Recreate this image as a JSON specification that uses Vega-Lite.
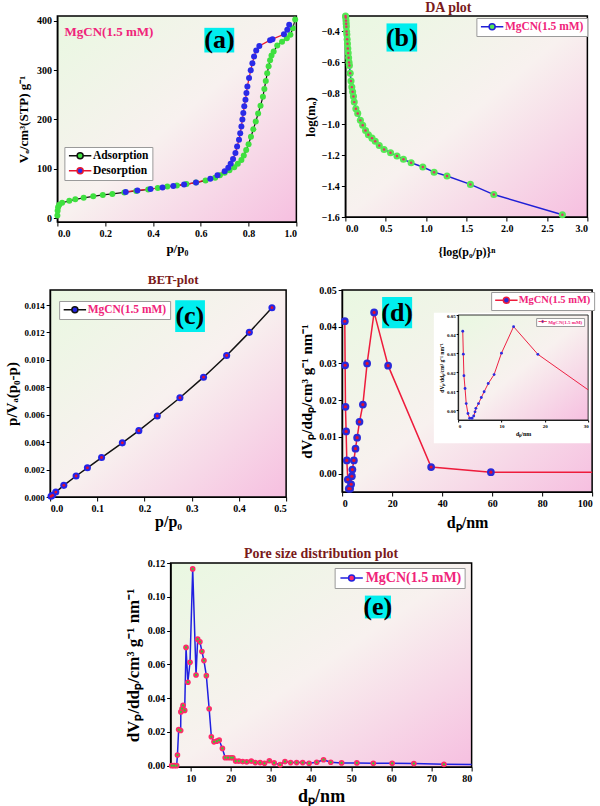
{
"$schema":"https://vega.github.io/schema/vega-lite/v6.json",
"background":"white",
"padding":{"left":4,"top":0,"right":0,"bottom":0},
"center":true,
"spacing":15,
"resolve":{"scale":{"stroke":"independent","fill":"independent"}},
"config":{
 "font":"Liberation Serif",
 "view":{"stroke":"black","strokeWidth":1.5},
 "axis":{"labelFont":"Liberation Serif","labelFontWeight":"bold","labelFontSize":10,"labelColor":"black","titleFont":"Liberation Serif","titleFontWeight":"bold","titleColor":"black","domainColor":"black","domainWidth":1.2,"tickColor":"black","tickSize":4,"tickWidth":1,"grid":false,"labelPadding":2},
 "title":{"font":"Liberation Serif","fontWeight":"bold","fontSize":13,"color":"#7a1a1a","offset":-3},
 "legend":{"labelFont":"Liberation Serif","labelFontWeight":"bold","labelFontSize":11.5,"labelColor":"#f0247a","symbolSize":64,"symbolStrokeWidth":1.5,"strokeColor":"#9a9a9a","fillColor":"white","padding":3,"symbolOffset":7,"labelOffset":7}
},
"datasets":{
 "iso":[
  {"p":0,"v":5,"b":"Adsorption"},{"p":0.001,"v":15,"b":"Adsorption"},{"p":0.003,"v":22,"b":"Adsorption"},{"p":0.008,"v":27,"b":"Adsorption"},{"p":0.02,"v":31,"b":"Adsorption"},{"p":0.05,"v":35,"b":"Adsorption"},{"p":0.075,"v":38,"b":"Adsorption"},{"p":0.11,"v":41,"b":"Adsorption"},{"p":0.15,"v":44,"b":"Adsorption"},{"p":0.19,"v":47,"b":"Adsorption"},{"p":0.23,"v":49,"b":"Adsorption"},{"p":0.28,"v":52,"b":"Adsorption"},{"p":0.33,"v":55,"b":"Adsorption"},{"p":0.38,"v":58,"b":"Adsorption"},{"p":0.42,"v":61,"b":"Adsorption"},{"p":0.46,"v":64,"b":"Adsorption"},{"p":0.5,"v":66,"b":"Adsorption"},{"p":0.54,"v":69,"b":"Adsorption"},{"p":0.58,"v":72,"b":"Adsorption"},{"p":0.62,"v":76,"b":"Adsorption"},{"p":0.66,"v":82,"b":"Adsorption"},{"p":0.68,"v":87,"b":"Adsorption"},{"p":0.7,"v":92,"b":"Adsorption"},{"p":0.72,"v":97,"b":"Adsorption"},{"p":0.74,"v":103,"b":"Adsorption"},{"p":0.755,"v":110,"b":"Adsorption"},{"p":0.77,"v":118,"b":"Adsorption"},{"p":0.78,"v":127,"b":"Adsorption"},{"p":0.79,"v":138,"b":"Adsorption"},{"p":0.8,"v":150,"b":"Adsorption"},{"p":0.81,"v":165,"b":"Adsorption"},{"p":0.82,"v":180,"b":"Adsorption"},{"p":0.83,"v":196,"b":"Adsorption"},{"p":0.84,"v":212,"b":"Adsorption"},{"p":0.85,"v":228,"b":"Adsorption"},{"p":0.86,"v":246,"b":"Adsorption"},{"p":0.866,"v":262,"b":"Adsorption"},{"p":0.872,"v":278,"b":"Adsorption"},{"p":0.878,"v":294,"b":"Adsorption"},{"p":0.884,"v":308,"b":"Adsorption"},{"p":0.89,"v":320,"b":"Adsorption"},{"p":0.896,"v":330,"b":"Adsorption"},{"p":0.905,"v":338,"b":"Adsorption"},{"p":0.92,"v":350,"b":"Adsorption"},{"p":0.94,"v":358,"b":"Adsorption"},{"p":0.96,"v":365,"b":"Adsorption"},{"p":0.975,"v":372,"b":"Adsorption"},{"p":0.985,"v":385,"b":"Adsorption"},{"p":0.995,"v":403,"b":"Adsorption"},
  {"p":0.286,"v":53,"b":"Desorption"},{"p":0.335,"v":56,"b":"Desorption"},{"p":0.39,"v":59,"b":"Desorption"},{"p":0.44,"v":62,"b":"Desorption"},{"p":0.485,"v":65,"b":"Desorption"},{"p":0.53,"v":68,"b":"Desorption"},{"p":0.58,"v":72,"b":"Desorption"},{"p":0.64,"v":80,"b":"Desorption"},{"p":0.67,"v":87,"b":"Desorption"},{"p":0.7,"v":95,"b":"Desorption"},{"p":0.715,"v":102,"b":"Desorption"},{"p":0.725,"v":110,"b":"Desorption"},{"p":0.735,"v":120,"b":"Desorption"},{"p":0.745,"v":132,"b":"Desorption"},{"p":0.752,"v":145,"b":"Desorption"},{"p":0.76,"v":159,"b":"Desorption"},{"p":0.765,"v":172,"b":"Desorption"},{"p":0.77,"v":186,"b":"Desorption"},{"p":0.774,"v":200,"b":"Desorption"},{"p":0.778,"v":213,"b":"Desorption"},{"p":0.782,"v":227,"b":"Desorption"},{"p":0.787,"v":240,"b":"Desorption"},{"p":0.791,"v":254,"b":"Desorption"},{"p":0.795,"v":267,"b":"Desorption"},{"p":0.802,"v":284,"b":"Desorption"},{"p":0.809,"v":300,"b":"Desorption"},{"p":0.816,"v":314,"b":"Desorption"},{"p":0.823,"v":328,"b":"Desorption"},{"p":0.832,"v":340,"b":"Desorption"},{"p":0.845,"v":349,"b":"Desorption"},{"p":0.89,"v":361,"b":"Desorption"},{"p":0.9,"v":363,"b":"Desorption"},{"p":0.948,"v":373,"b":"Desorption"},{"p":0.962,"v":382,"b":"Desorption"},{"p":0.97,"v":392,"b":"Desorption"}
 ],
 "da":[
  {"x":0.002,"y":-0.3},{"x":0.005,"y":-0.31},{"x":0.008,"y":-0.33},{"x":0.01,"y":-0.35},{"x":0.012,"y":-0.37},{"x":0.015,"y":-0.4},{"x":0.018,"y":-0.42},{"x":0.022,"y":-0.45},{"x":0.026,"y":-0.48},{"x":0.03,"y":-0.51},{"x":0.035,"y":-0.54},{"x":0.04,"y":-0.57},{"x":0.045,"y":-0.6},{"x":0.05,"y":-0.62},{"x":0.06,"y":-0.67},{"x":0.07,"y":-0.72},{"x":0.08,"y":-0.76},{"x":0.09,"y":-0.79},{"x":0.1,"y":-0.82},{"x":0.11,"y":-0.857},{"x":0.13,"y":-0.9},{"x":0.153,"y":-0.93},{"x":0.186,"y":-0.975},{"x":0.215,"y":-1.007},{"x":0.25,"y":-1.04},{"x":0.285,"y":-1.068},{"x":0.33,"y":-1.09},{"x":0.37,"y":-1.11},{"x":0.42,"y":-1.137},{"x":0.48,"y":-1.163},{"x":0.56,"y":-1.184},{"x":0.64,"y":-1.205},{"x":0.72,"y":-1.227},{"x":0.815,"y":-1.249},{"x":0.96,"y":-1.277},{"x":1.1,"y":-1.31},{"x":1.26,"y":-1.335},{"x":1.55,"y":-1.389},{"x":1.84,"y":-1.455},{"x":2.69,"y":-1.585}
 ],
 "bet":[
  {"x":0.002,"y":0.00005},{"x":0.005,"y":0.00012},{"x":0.012,"y":0.00036},{"x":0.029,"y":0.00085},{"x":0.055,"y":0.00153},{"x":0.079,"y":0.00213},{"x":0.109,"y":0.00288},{"x":0.153,"y":0.00395},{"x":0.188,"y":0.00484},{"x":0.227,"y":0.00591},{"x":0.275,"y":0.00724},{"x":0.325,"y":0.00874},{"x":0.374,"y":0.01032},{"x":0.422,"y":0.01201},{"x":0.47,"y":0.01381}
 ],
 "psd_d":[
  {"d":1.07,"dv":0.0415},{"d":1.2,"dv":0.0295},{"d":1.34,"dv":0.0182},{"d":1.6,"dv":0.0115},{"d":1.87,"dv":0.0036},{"d":2.27,"dv":-0.0016},{"d":2.67,"dv":-0.0041},{"d":3.2,"dv":-0.0041},{"d":3.6,"dv":-0.0029},{"d":3.9,"dv":-0.0007},{"d":4.1,"dv":0.0011},{"d":4.7,"dv":0.0036},{"d":5.35,"dv":0.0068},{"d":6.0,"dv":0.0098},{"d":6.95,"dv":0.0141},{"d":8.3,"dv":0.0188},{"d":10.0,"dv":0.03},{"d":12.8,"dv":0.0439},{"d":18.4,"dv":0.0294},{"d":35.6,"dv":0.0018},{"d":59.5,"dv":0.0004},{"d":100,"dv":0.0004}
 ],
 "inset":[
  {"d":1.07,"dv":0.0415},{"d":1.2,"dv":0.0295},{"d":1.34,"dv":0.0182},{"d":1.6,"dv":0.0115},{"d":1.87,"dv":0.0036},{"d":2.27,"dv":-0.0016},{"d":2.67,"dv":-0.0041},{"d":3.2,"dv":-0.0041},{"d":3.6,"dv":-0.0029},{"d":3.9,"dv":-0.0007},{"d":4.1,"dv":0.0011},{"d":4.7,"dv":0.0036},{"d":5.35,"dv":0.0068},{"d":6.0,"dv":0.0098},{"d":6.95,"dv":0.0141},{"d":8.3,"dv":0.0188},{"d":10.0,"dv":0.03},{"d":12.8,"dv":0.0439},{"d":18.4,"dv":0.0294},{"d":30,"dv":0.0108}
 ],
 "psd_e":[
  {"d":5.27,"dv":0},{"d":5.85,"dv":0},{"d":6.5,"dv":0},{"d":6.7,"dv":0.0063},{"d":7.0,"dv":0.0214},{"d":7.5,"dv":0.0208},{"d":7.55,"dv":0.0318},{"d":7.84,"dv":0.0337},{"d":8.1,"dv":0.0357},{"d":8.5,"dv":0.0327},{"d":8.84,"dv":0.07},{"d":9.3,"dv":0.0494},{"d":9.83,"dv":0.0612},{"d":10.5,"dv":0.1165},{"d":11.33,"dv":0.0537},{"d":11.74,"dv":0.0749},{"d":12.3,"dv":0.0733},{"d":12.8,"dv":0.0676},{"d":13.3,"dv":0.0622},{"d":13.9,"dv":0.0533},{"d":14.6,"dv":0.0337},{"d":15.15,"dv":0.0171},{"d":15.8,"dv":0.0141},{"d":16.5,"dv":0.0145},{"d":17.1,"dv":0.0151},{"d":17.9,"dv":0.0102},{"d":18.6,"dv":0.0047},{"d":19.3,"dv":0.0047},{"d":20.0,"dv":0.0047},{"d":20.5,"dv":0.0047},{"d":21.2,"dv":0.0027},{"d":22.0,"dv":0.0027},{"d":22.96,"dv":0.0024},{"d":23.95,"dv":0.0022},{"d":25.1,"dv":0.0027},{"d":26.1,"dv":0.0018},{"d":27.3,"dv":0.0018},{"d":28.4,"dv":0.0014},{"d":29.6,"dv":0.0029},{"d":30.8,"dv":0.0016},{"d":32.3,"dv":0.0006},{"d":33.5,"dv":0.0024},{"d":34.9,"dv":0.0018},{"d":36.4,"dv":0.0018},{"d":37.9,"dv":0.0018},{"d":39.5,"dv":0.0014},{"d":41.4,"dv":0.002},{"d":43.1,"dv":0.0035},{"d":44.9,"dv":0.002},{"d":47.6,"dv":0.0016},{"d":51.4,"dv":0.0016},{"d":55.5,"dv":0.0014},{"d":60.2,"dv":0.0014},{"d":65.6,"dv":0.0012},{"d":73.1,"dv":0.0008},{"d":80,"dv":0.0007}
 ]
},
"vconcat":[
 {"hconcat":[
  {
   "width":239,"height":206,
   "view":{"fill":{"gradient":"linear","x1":0,"y1":0,"x2":1,"y2":1,"stops":[{"offset":0,"color":"#e9f8e1"},{"offset":0.5,"color":"#f8f1ef"},{"offset":1,"color":"#f6bfe0"}]},"stroke":"black","strokeWidth":1.5},
   "data":{"name":"iso"},
   "encoding":{
    "x":{"field":"p","type":"quantitative","scale":{"domain":[0,1],"nice":false},"axis":{"values":[0,0.2,0.4,0.6,0.8,1],"format":".1f","title":"p/p₀","titleFontSize":13,"titlePadding":4}},
    "y":{"field":"v","type":"quantitative","scale":{"domain":[-8,410],"nice":false,"zero":false},"axis":{"values":[0,100,200,300,400],"title":"Vₐ/cm³(STP) g⁻¹","titleFontSize":13,"titlePadding":6}}
   },
   "layer":[
    {"mark":{"type":"line","strokeWidth":1.2},"encoding":{"stroke":{"field":"b","type":"nominal","scale":{"domain":["Adsorption","Desorption"],"range":["#111111","#e8162e"]},"legend":{"title":null,"orient":"none","legendX":7,"legendY":131,"symbolType":"M-2.8,0H-0.75M0.75,0H2.8M-0.75,0A0.75,0.75,0,1,0,0.75,0A0.75,0.75,0,1,0,-0.75,0Z","labelColor":"black","labelFontSize":11.5}}}},
    {"mark":{"type":"point","filled":true,"size":36,"opacity":1},"encoding":{"fill":{"field":"b","type":"nominal","scale":{"domain":["Adsorption","Desorption"],"range":["#3fe03f","#2a2ae8"]},"legend":{"title":null,"orient":"none","legendX":7,"legendY":131,"symbolType":"M-2.8,0H-0.75M0.75,0H2.8M-0.75,0A0.75,0.75,0,1,0,0.75,0A0.75,0.75,0,1,0,-0.75,0Z","labelColor":"black","labelFontSize":11.5}}}},
    {"data":{"values":[{"p":0.615,"p2":0.74,"v":336,"v2":386}]},"mark":{"type":"rect","fill":"#00eeee"},"encoding":{"x2":{"field":"p2"},"y2":{"field":"v2"}}},
    {"data":{"values":[{"p":0.678,"v":361,"t":"(a)"}]},"mark":{"type":"text","fontSize":26,"fontWeight":"bold","font":"Liberation Serif","color":"black","baseline":"middle"},"encoding":{"text":{"field":"t"}}},
    {"data":{"values":[{"p":0.03,"v":378,"t":"MgCN(1.5 mM)"}]},"mark":{"type":"text","fontSize":13,"fontWeight":"bold","font":"Liberation Serif","color":"#f0247a","align":"left","baseline":"middle"},"encoding":{"text":{"field":"t"}}}
   ]
  },
  {
   "title":{"text":"DA plot","fontSize":14,"dx":-18},
   "width":242,"height":201,
   "view":{"fill":{"gradient":"linear","x1":0,"y1":0,"x2":1,"y2":1,"stops":[{"offset":0,"color":"#e9f8e1"},{"offset":0.5,"color":"#f8f1ef"},{"offset":1,"color":"#f6bfe0"}]},"stroke":"black","strokeWidth":1.5},
   "data":{"name":"da"},
   "encoding":{
    "x":{"field":"x","type":"quantitative","scale":{"domain":[0,3],"nice":false},"axis":{"values":[0,0.5,1,1.5,2,2.5,3],"format":".1f","title":"{log(p₀/p)}ⁿ","titleFontSize":12,"titlePadding":13}},
    "y":{"field":"y","type":"quantitative","scale":{"domain":[-1.6,-0.3],"nice":false,"zero":false},"axis":{"values":[-1.6,-1.4,-1.2,-1,-0.8,-0.6,-0.4],"format":".1f","title":"log(mₐ)","titleFontSize":13,"titlePadding":4}}
   },
   "layer":[
    {"mark":{"type":"line","strokeWidth":1.5},"encoding":{"stroke":{"datum":"MgCN(1.5 mM)","type":"nominal","scale":{"range":["#1f1fd6"]},"legend":{"title":null,"orient":"none","legendX":131,"legendY":2,"symbolType":"M-2.8,0H-0.75M0.75,0H2.8M-0.75,0A0.75,0.75,0,1,0,0.75,0A0.75,0.75,0,1,0,-0.75,0Z"}}}},
    {"mark":{"type":"point","filled":true,"size":50,"opacity":1},"encoding":{"fill":{"datum":"MgCN(1.5 mM)","type":"nominal","scale":{"range":["#55e855"]},"legend":{"title":null,"orient":"none","legendX":131,"legendY":2,"symbolType":"M-2.8,0H-0.75M0.75,0H2.8M-0.75,0A0.75,0.75,0,1,0,0.75,0A0.75,0.75,0,1,0,-0.75,0Z"}}}},
    {"mark":{"type":"point","filled":true,"size":6,"opacity":1,"color":"#e0306a"}},
    {"data":{"values":[{"x":0.51,"x2":0.89,"y":-0.53,"y2":-0.348}]},"mark":{"type":"rect","fill":"#00eeee"},"encoding":{"x2":{"field":"x2"},"y2":{"field":"y2"}}},
    {"data":{"values":[{"x":0.7,"y":-0.44,"t":"(b)"}]},"mark":{"type":"text","fontSize":26,"fontWeight":"bold","font":"Liberation Serif","color":"black","baseline":"middle"},"encoding":{"text":{"field":"t"}}}
   ]
  }
 ],"spacing":49,"bounds":"flush","resolve":{"scale":{"stroke":"independent","fill":"independent"}}},
 {"hconcat":[
  {
   "title":{"text":"BET-plot","dx":5,"offset":3},
   "width":236,"height":207,
   "view":{"fill":{"gradient":"linear","x1":0,"y1":0,"x2":1,"y2":1,"stops":[{"offset":0,"color":"#e9f8e1"},{"offset":0.5,"color":"#f8f1ef"},{"offset":1,"color":"#f6bfe0"}]},"stroke":"black","strokeWidth":1.5},
   "data":{"name":"bet"},
   "encoding":{
    "x":{"field":"x","type":"quantitative","scale":{"domain":[0,0.5],"nice":false},"axis":{"values":[0,0.1,0.2,0.3,0.4,0.5],"format":".1f","title":"p/p₀","titleFontSize":16,"titlePadding":0}},
    "y":{"field":"y","type":"quantitative","scale":{"domain":[0,0.0151],"nice":false,"zero":false},"axis":{"values":[0,0.002,0.004,0.006,0.008,0.01,0.012,0.014],"format":".3f","labelFontSize":9,"title":"p/Vₐ(p₀-p)","titleFontSize":15,"titlePadding":4}}
   },
   "layer":[
    {"mark":{"type":"line","strokeWidth":1.5},"encoding":{"stroke":{"datum":"MgCN(1.5 mM)","type":"nominal","scale":{"range":["#111111"]},"legend":{"title":null,"orient":"none","legendX":9,"legendY":11,"symbolType":"M-2.8,0H-0.75M0.75,0H2.8M-0.75,0A0.75,0.75,0,1,0,0.75,0A0.75,0.75,0,1,0,-0.75,0Z"}}}},
    {"mark":{"type":"point","filled":true,"size":50,"opacity":1},"encoding":{"fill":{"datum":"MgCN(1.5 mM)","type":"nominal","scale":{"range":["#2424e6"]},"legend":{"title":null,"orient":"none","legendX":9,"legendY":11,"symbolType":"M-2.8,0H-0.75M0.75,0H2.8M-0.75,0A0.75,0.75,0,1,0,0.75,0A0.75,0.75,0,1,0,-0.75,0Z"}}}},
    {"mark":{"type":"point","filled":true,"size":8,"opacity":1,"color":"#e01030"}},
    {"data":{"values":[{"x":0.265,"x2":0.328,"y":0.01203,"y2":0.01436}]},"mark":{"type":"rect","fill":"#00eeee"},"encoding":{"x2":{"field":"x2"},"y2":{"field":"y2"}}},
    {"data":{"values":[{"x":0.296,"y":0.0132,"t":"(c)"}]},"mark":{"type":"text","fontSize":26,"fontWeight":"bold","font":"Liberation Serif","color":"black","baseline":"middle"},"encoding":{"text":{"field":"t"}}}
   ]
  },
  {
   "width":250,"height":202,
   "view":{"fill":{"gradient":"linear","x1":0,"y1":0,"x2":1,"y2":1,"stops":[{"offset":0,"color":"#e9f8e1"},{"offset":0.5,"color":"#f8f1ef"},{"offset":1,"color":"#f6bfe0"}]},"stroke":"black","strokeWidth":1.5},
   "layer":[
    {
     "data":{"name":"psd_d"},
     "encoding":{
      "x":{"field":"d","type":"quantitative","scale":{"domain":[0,100],"nice":false},"axis":{"values":[0,20,40,60,80,100],"title":"dₚ/nm","titleFontSize":16,"titlePadding":6}},
      "y":{"field":"dv","type":"quantitative","scale":{"domain":[-0.005,0.05],"nice":false,"zero":false},"axis":{"values":[0,0.01,0.02,0.03,0.04,0.05],"format":".2f","title":"dVₚ/ddₚ/cm³ g⁻¹ nm⁻¹","titleFontSize":15,"titlePadding":4}}
     },
     "layer":[
      {"mark":{"type":"line","strokeWidth":1.5},"encoding":{"stroke":{"datum":"MgCN(1.5 mM)","type":"nominal","scale":{"range":["#ee1c3c"]},"legend":{"title":null,"orient":"none","legendX":149,"legendY":2,"labelFontSize":10.5,"symbolType":"M-2.8,0H-0.75M0.75,0H2.8M-0.75,0A0.75,0.75,0,1,0,0.75,0A0.75,0.75,0,1,0,-0.75,0Z"}}}},
      {"transform":[{"filter":"datum.d < 99"}],"mark":{"type":"point","filled":true,"size":60,"opacity":1},"encoding":{"fill":{"datum":"MgCN(1.5 mM)","type":"nominal","scale":{"range":["#2a2ad8"]},"legend":{"title":null,"orient":"none","legendX":149,"legendY":2,"labelFontSize":10.5,"symbolType":"M-2.8,0H-0.75M0.75,0H2.8M-0.75,0A0.75,0.75,0,1,0,0.75,0A0.75,0.75,0,1,0,-0.75,0Z"}}}},
      {"transform":[{"filter":"datum.d < 99"}],"mark":{"type":"point","filled":true,"size":10,"opacity":1,"color":"#e01030"}},
      {"data":{"values":[{"d":16,"d2":28,"dv":0.0396,"dv2":0.0481}]},"mark":{"type":"rect","fill":"#00eeee"},"encoding":{"x2":{"field":"d2"},"y2":{"field":"dv2"}}},
      {"data":{"values":[{"d":22,"dv":0.0438,"t":"(d)"}]},"mark":{"type":"text","fontSize":26,"fontWeight":"bold","font":"Liberation Serif","color":"black","baseline":"middle"},"encoding":{"text":{"field":"t"}}}
     ]
    },
    {
     "data":{"name":"inset"},
     "encoding":{
      "x":{"field":"d","type":"quantitative","scale":{"domain":[0,30],"range":[116,246],"nice":false},"axis":{"orient":"bottom","offset":-72,"zindex":1,"values":[0,10,20,30],"labelFontSize":5,"title":"dₚ/nm","titleFontSize":6,"titlePadding":2,"tickSize":2,"domainWidth":0.8,"labelPadding":1}},
      "y":{"field":"dv","type":"quantitative","scale":{"domain":[-0.005,0.05],"range":[130,25],"nice":false,"zero":false},"axis":{"orient":"left","offset":-116,"zindex":1,"values":[0,0.01,0.02,0.03,0.04,0.05],"format":".2f","labelFontSize":5,"title":"dVₚ/ddₚ/cm³ g⁻¹ nm⁻¹","titleFontSize":5.5,"titlePadding":2,"tickSize":2,"domainWidth":0.8,"labelPadding":1}}
     },
     "layer":[
      {"data":{"values":[{"d":-5.6,"d2":30.5,"dv":-0.0172,"dv2":0.0512}]},"mark":{"type":"rect","fill":"white"},"encoding":{"x2":{"field":"d2"},"y2":{"field":"dv2"}}},
      {"data":{"values":[{"d":0,"d2":30,"dv":-0.005,"dv2":0.05}]},"mark":{"type":"rect","fill":{"gradient":"linear","x1":0,"y1":0,"x2":1,"y2":1,"stops":[{"offset":0,"color":"#e9f8e1"},{"offset":0.5,"color":"#f8f1ef"},{"offset":1,"color":"#f6bfe0"}]},"stroke":"black","strokeWidth":0.8},"encoding":{"x2":{"field":"d2"},"y2":{"field":"dv2"}}},
      {"mark":{"type":"line","strokeWidth":1},"encoding":{"stroke":{"datum":"MgCN(1.5 mM) ","type":"nominal","scale":{"range":["#ee2244"]},"legend":{"title":null,"orient":"none","legendX":194,"legendY":28,"labelFontSize":5,"symbolSize":9,"symbolStrokeWidth":0.8,"labelOffset":3,"padding":1,"symbolOffset":3,"symbolType":"M-2.8,0H-0.75M0.75,0H2.8M-0.75,0A0.75,0.75,0,1,0,0.75,0A0.75,0.75,0,1,0,-0.75,0Z"}}}},
      {"transform":[{"filter":"datum.d < 29"}],"mark":{"type":"point","filled":true,"size":8,"opacity":1},"encoding":{"fill":{"datum":"MgCN(1.5 mM) ","type":"nominal","scale":{"range":["#2a2ae0"]},"legend":{"title":null,"orient":"none","legendX":194,"legendY":28,"labelFontSize":5,"symbolSize":9,"symbolStrokeWidth":0.8,"labelOffset":3,"padding":1,"symbolOffset":3,"symbolType":"M-2.8,0H-0.75M0.75,0H2.8M-0.75,0A0.75,0.75,0,1,0,0.75,0A0.75,0.75,0,1,0,-0.75,0Z"}}}}
     ]
    }
   ],
   "resolve":{"scale":{"x":"independent","y":"independent","stroke":"independent","fill":"independent"}}
  }
 ],"spacing":56,"bounds":"flush","resolve":{"scale":{"stroke":"independent","fill":"independent"}}},
 {
  "title":{"text":"Pore size distribution plot","fontSize":14},
  "width":301,"height":204,
  "view":{"fill":{"gradient":"linear","x1":0,"y1":0,"x2":1,"y2":1,"stops":[{"offset":0,"color":"#e9f8e1"},{"offset":0.5,"color":"#f8f1ef"},{"offset":1,"color":"#f6bfe0"}]},"stroke":"black","strokeWidth":1.5},
  "data":{"name":"psd_e"},
  "encoding":{
   "x":{"field":"d","type":"quantitative","scale":{"domain":[5,80],"nice":false},"axis":{"values":[10,20,30,40,50,60,70,80],"title":"dₚ/nm","titleFontSize":18,"titlePadding":4}},
   "y":{"field":"dv","type":"quantitative","scale":{"domain":[-0.0008,0.12],"nice":false,"zero":false},"axis":{"values":[0,0.02,0.04,0.06,0.08,0.1,0.12],"format":".2f","title":"dVₚ/ddₚ/cm³ g⁻¹ nm⁻¹","titleFontSize":17,"titlePadding":5}}
  },
  "layer":[
   {"mark":{"type":"line","strokeWidth":1.5},"encoding":{"stroke":{"datum":"MgCN(1.5 mM)","type":"nominal","scale":{"range":["#2020e0"]},"legend":{"title":null,"orient":"none","legendX":164,"legendY":5,"labelFontSize":14,"symbolType":"M-2.8,0H-0.75M0.75,0H2.8M-0.75,0A0.75,0.75,0,1,0,0.75,0A0.75,0.75,0,1,0,-0.75,0Z"}}}},
   {"transform":[{"filter":"datum.d < 79"}],"mark":{"type":"point","filled":true,"size":32,"opacity":1},"encoding":{"fill":{"datum":"MgCN(1.5 mM)","type":"nominal","scale":{"range":["#ff2a6a"]},"legend":{"title":null,"orient":"none","legendX":164,"legendY":5,"labelFontSize":14,"symbolType":"M-2.8,0H-0.75M0.75,0H2.8M-0.75,0A0.75,0.75,0,1,0,0.75,0A0.75,0.75,0,1,0,-0.75,0Z"}}}},
   {"transform":[{"filter":"datum.d < 79"}],"mark":{"type":"point","filled":true,"size":5,"opacity":1,"color":"#30d030"}},
   {"data":{"values":[{"d":53.4,"d2":59.9,"dv":0.0872,"dv2":0.1007}]},"mark":{"type":"rect","fill":"#00eeee"},"encoding":{"x2":{"field":"d2"},"y2":{"field":"dv2"}}},
   {"data":{"values":[{"d":56.6,"dv":0.094,"t":"(e)"}]},"mark":{"type":"text","fontSize":26,"fontWeight":"bold","font":"Liberation Serif","color":"black","baseline":"middle"},"encoding":{"text":{"field":"t"}}}
  ]
 }
]
}
